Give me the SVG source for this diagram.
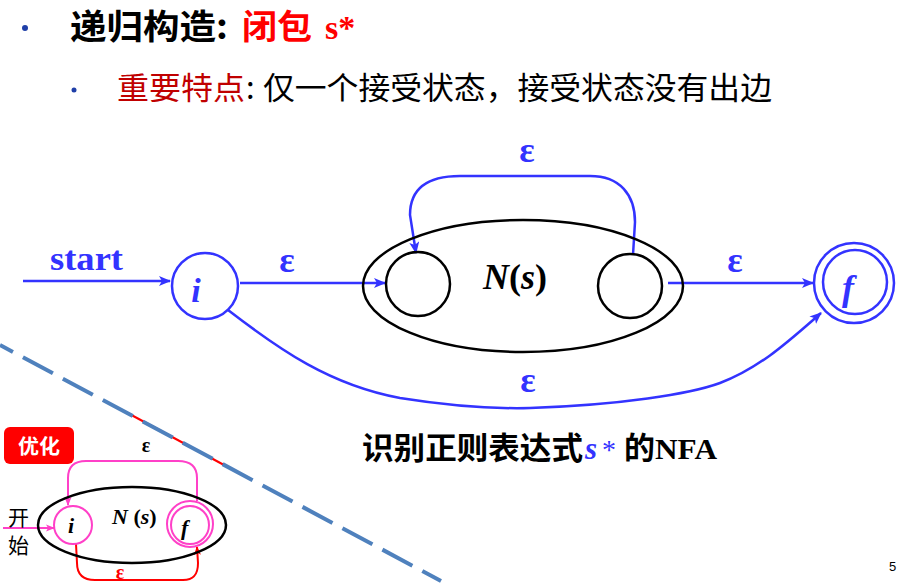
<svg xmlns="http://www.w3.org/2000/svg" width="900" height="584" viewBox="0 0 900 584">
<style>
.cjk{font-family:"Noto Sans CJK SC","Noto Sans",sans-serif;}
.cjkb{font-family:"Noto Sans CJK SC","Noto Sans",sans-serif;font-weight:bold;}
.ser{font-family:"Liberation Serif","DejaVu Serif",serif;font-weight:bold;}
.seri{font-family:"Liberation Serif","DejaVu Serif",serif;font-weight:bold;font-style:italic;}
.blue{fill:#3333FF;}
.st{fill:none;stroke:#3333FF;stroke-width:2.5;}
.stb{fill:none;stroke:#000;stroke-width:2.5;}
.sp{fill:none;stroke:#FF40C8;stroke-width:2;}
.sr{fill:none;stroke:#FF0000;stroke-width:2;}
.eps{font-family:"Liberation Serif","DejaVu Serif",serif;font-weight:bold;font-size:36px;fill:#3333FF;text-anchor:middle;}
</style>
<defs>
<marker id="ab" viewBox="0 0 12 10" refX="11" refY="5" markerWidth="12" markerHeight="10" markerUnits="userSpaceOnUse" orient="auto">
<path d="M0,0 L12,5 L0,10 L3,5 z" fill="#3333FF"/>
</marker>
<marker id="ap" viewBox="0 0 10 8" refX="9" refY="4" markerWidth="9" markerHeight="8" markerUnits="userSpaceOnUse" orient="auto">
<path d="M0,0 L10,4 L0,8 L2.5,4 z" fill="#FF40C8"/>
</marker>
<marker id="ar" viewBox="0 0 10 8" refX="9" refY="4" markerWidth="9" markerHeight="8" markerUnits="userSpaceOnUse" orient="auto">
<path d="M0,0 L10,4 L0,8 L2.5,4 z" fill="#FF0000"/>
</marker>
</defs>
<rect width="900" height="584" fill="#fff"/>

<g id="title">
<circle cx="25" cy="28" r="3" fill="#1F3FA8"/>
<text x="70" y="39" class="cjkb" font-size="34" textLength="158" lengthAdjust="spacingAndGlyphs" fill="#000">递归构造:</text>
<text x="242" y="39" class="cjkb" font-size="34" textLength="70" lengthAdjust="spacingAndGlyphs" fill="#FF0000">闭包</text>
<text x="325" y="39" class="ser" font-size="34" fill="#FF0000">s*</text>
<circle cx="74" cy="90" r="2.5" fill="#1F3FA8"/>
<text x="117" y="99" class="cjk" font-size="31" textLength="128" lengthAdjust="spacingAndGlyphs" fill="#C00000">重要特点</text>
<text x="246" y="99" class="cjk" font-size="31" fill="#000">:</text>
<text x="263" y="99" class="cjk" font-size="31" textLength="509" lengthAdjust="spacingAndGlyphs" fill="#000">仅一个接受状态，接受状态没有出边</text>
</g>

<g id="divider">
<line x1="124" y1="411" x2="224" y2="465" stroke="#FF0000" stroke-width="2"/>
<line x1="0" y1="345" x2="441" y2="581" stroke="#4F81BD" stroke-width="4" stroke-dasharray="34 11.3" stroke-dashoffset="19.3"/>
</g>

<g id="connectors">
<line x1="23" y1="281" x2="170" y2="281" class="st" marker-end="url(#ab)"/>
<text x="50" y="270" class="ser blue" font-size="34" textLength="73" lengthAdjust="spacingAndGlyphs">start</text>
<line x1="240" y1="283" x2="385" y2="283" class="st" marker-end="url(#ab)"/>
<text x="287" y="272" class="eps">ε</text>
<path d="M633,255 L635,222 C635,195 620,176 590,176 L460,176 C425,176 410,190 410,215 L416,253" class="st" marker-end="url(#ab)"/>
<text x="527" y="162" class="eps">ε</text>
<line x1="668" y1="283" x2="813" y2="283" class="st" marker-end="url(#ab)"/>
<text x="735" y="272" class="eps">ε</text>
<path d="M228,310 C280,350 330,385 400,398 C450,406 490,409 530,408 C620,405 690,394 720,383 C760,368 790,340 821,313" class="st" marker-end="url(#ab)"/>
<text x="528" y="392" class="eps">ε</text>
</g>

<g id="node-i">
<circle cx="205" cy="286" r="33" class="st"/>
<text x="196" y="302" class="seri blue" font-size="34" text-anchor="middle">i</text>
</g>

<g id="node-Ns">
<ellipse cx="523" cy="286" rx="160" ry="66" class="stb"/>
<circle cx="418" cy="284" r="32" class="stb"/>
<circle cx="630" cy="286" r="32" class="stb"/>
<text x="515" y="289" class="ser" font-size="36" text-anchor="middle" fill="#000"><tspan font-style="italic">N</tspan>(<tspan font-style="italic">s</tspan>)</text>
</g>

<g id="node-f">
<circle cx="854" cy="283" r="40" class="st"/>
<circle cx="855" cy="282" r="32" class="st"/>
<text x="848" y="300" class="seri blue" font-size="36" text-anchor="middle">f</text>
</g>

<g id="caption">
<text x="362" y="459" class="cjkb" font-size="31" textLength="221" lengthAdjust="spacingAndGlyphs" fill="#000">识别正则表达式</text>
<text x="585" y="459" class="seri" font-size="31" fill="#3333FF">s</text>
<text x="602" y="459" font-family="Liberation Serif, serif" font-size="28" fill="#3333FF">*</text>
<text x="624" y="459" class="cjkb" font-size="31" fill="#000">的</text>
<text x="655" y="459" class="ser" font-size="30" textLength="62" lengthAdjust="spacingAndGlyphs" fill="#000">NFA</text>
</g>

<g id="opt-label">
<rect x="4" y="427" width="70" height="37" rx="6" fill="#FF0000"/>
<text x="39" y="454" class="cjkb" font-size="20" text-anchor="middle" textLength="42" lengthAdjust="spacingAndGlyphs" fill="#fff">优化</text>
</g>

<g id="small-connectors">
<line x1="3" y1="528" x2="54" y2="528" class="sp" marker-end="url(#ap)"/>
<path d="M197,501 L197,478 C197,466 190,461 178,461 L86,461 C74,461 68,466 68,478 L68,505" class="sp" marker-end="url(#ap)"/>
<text x="146" y="452" class="ser" font-size="20" text-anchor="middle" fill="#000">ε</text>
<path d="M76,544 L77,563 C77,575 83,580 95,580 L183,580 C194,580 198,574 198,563 L197,547" class="sr" marker-end="url(#ar)"/>
<text x="120" y="579" class="ser" font-size="20" text-anchor="middle" fill="#FF0000">ε</text>
</g>

<g id="small-start">
<text x="8" y="525" class="cjk" font-size="21" fill="#000">开</text>
<text x="8" y="553" class="cjk" font-size="21" fill="#000">始</text>
</g>

<g id="small-Ns">
<ellipse cx="132" cy="525" rx="94" ry="38" class="stb"/>
<text x="112" y="524" class="ser" font-size="22" fill="#000"><tspan font-style="italic">N</tspan> (<tspan font-style="italic">s</tspan>)</text>
</g>

<g id="small-i">
<circle cx="73" cy="525" r="19" class="sp" fill="#fff"/>
<text x="68" y="533" class="seri" font-size="22" fill="#000">i</text>
</g>

<g id="small-f">
<circle cx="190" cy="524" r="23" class="sp"/>
<circle cx="190" cy="525" r="19" class="sp"/>
<text x="181" y="535" class="seri" font-size="22" fill="#000">f</text>
</g>

<text x="889" y="571" font-family="Liberation Sans, sans-serif" font-size="13" fill="#000">5</text>
</svg>
